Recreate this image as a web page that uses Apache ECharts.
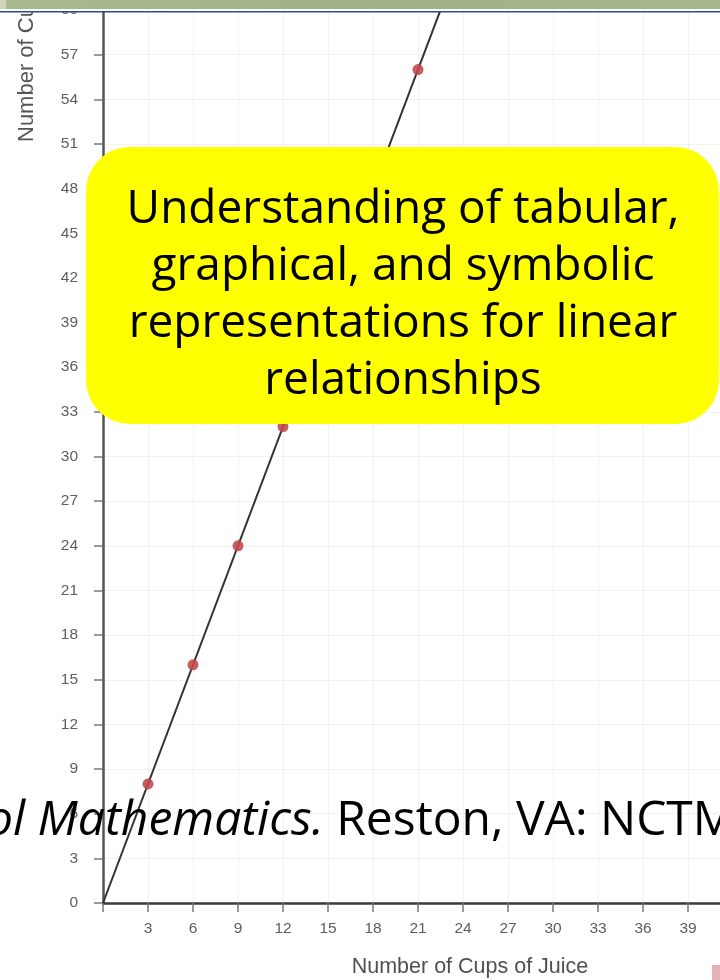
<!DOCTYPE html>
<html>
<head>
<meta charset="utf-8">
<title>Number of Cups of Juice</title>
<script src="https://cdn.jsdelivr.net/npm/echarts@6/dist/echarts.min.js"></script>
<style>
  html, body { margin: 0; padding: 0; background: #ffffff; }
  #chart { width: 720px; height: 980px; }
</style>
</head>
<body>
<div id="chart"></div>
<script>
// Plotted table: cups of juice vs. the quantity on the vertical axis
const cups = [3, 6, 9, 12, 21];
const counts = [8, 16, 24, 32, 56];

// Straight line through the origin that the table values lie on
const lineCups = [0, 24];
const lineCounts = [0, 64];

// Axis ranges and tick step
const xRange = [0, 42];
const yRange = [0, 60];
const tickStep = 3;

// Text
const yAxisTitle = 'Number of Cups';
const xAxisTitle = 'Number of Cups of Juice';
const calloutLines = [
  'Understanding of tabular,',
  'graphical, and symbolic',
  'representations for linear',
  'relationships'
];
const citationItalic = 'ol Mathematics.';
const citationPlain = ' Reston, VA: NCTM';

const chart = echarts.init(document.getElementById('chart'), null, { renderer: 'canvas' });

const labelStyle = {
  color: '#5e5e5e',
  fontFamily: 'Liberation Sans, Arial, sans-serif',
  fontSize: 15.5
};
const faintGrid = { show: true, lineStyle: { color: 'rgba(215,215,190,0.3)', width: 1 } };

chart.setOption({
  animation: false,
  backgroundColor: '#ffffff',
  // the plot runs past the right edge of the page, so its width is fixed
  grid: {
    left: 103, top: 10, width: 630, bottom: 77,
    containLabel: false,
    outerBoundsMode: 'none'
  },
  xAxis: {
    type: 'value',
    min: xRange[0],
    max: xRange[1],
    interval: tickStep,
    axisLine: { show: true, onZero: false, lineStyle: { color: '#3a3a3a', width: 2.5 } },
    axisTick: { show: true, inside: false, length: 9, lineStyle: { color: '#777', width: 1.5 } },
    axisLabel: {
      ...labelStyle,
      margin: 18,
      showMaxLabel: false,
      formatter: v => (v === 0 ? '' : String(v))
    },
    splitLine: faintGrid
  },
  yAxis: {
    type: 'value',
    min: yRange[0],
    max: yRange[1],
    interval: tickStep,
    axisLine: { show: true, onZero: false, lineStyle: { color: '#555', width: 2.5 } },
    axisTick: { show: true, inside: false, length: 9, lineStyle: { color: '#777', width: 1.5 } },
    axisLabel: { ...labelStyle, margin: 25 },
    splitLine: faintGrid
  },
  series: [
    {
      type: 'line',
      data: lineCups.map((c, i) => [c, lineCounts[i]]),
      symbol: 'none',
      clip: true,
      lineStyle: { color: '#333333', width: 2 },
      z: 2
    },
    {
      type: 'scatter',
      data: cups.map((c, i) => [c, counts[i]]),
      symbol: 'circle',
      symbolSize: 11,
      itemStyle: { color: '#c0474a', opacity: 0.88 },
      z: 3
    }
  ],
  graphic: [
    // vertical axis title (runs up under the header band)
    {
      type: 'text',
      x: 27, y: 142,
      rotation: Math.PI / 2,
      z: 50,
      style: {
        text: yAxisTitle,
        fill: '#555555',
        font: '22px "Liberation Sans", Arial, sans-serif',
        textAlign: 'left',
        textVerticalAlign: 'middle'
      }
    },
    // horizontal axis title
    {
      type: 'text',
      x: 470, y: 967,
      z: 50,
      style: {
        text: xAxisTitle,
        fill: '#505050',
        font: '21.5px "Liberation Sans", Arial, sans-serif',
        textAlign: 'center',
        textVerticalAlign: 'middle'
      }
    },
    // header band
    {
      type: 'rect',
      z: 60,
      shape: { x: 0, y: 0, width: 720, height: 9 },
      style: {
        fill: new echarts.graphic.LinearGradient(0, 0, 1, 0, [
          { offset: 0, color: '#a9b98e' },
          { offset: 0.5, color: '#a2b287' },
          { offset: 1, color: '#a6b68b' }
        ])
      }
    },
    {
      type: 'rect',
      z: 61,
      shape: { x: 0, y: 0, width: 6, height: 9 },
      style: { fill: '#cdd5bb' }
    },
    {
      type: 'rect',
      z: 60,
      shape: { x: 0, y: 9, width: 720, height: 2 },
      style: { fill: '#ffffff' }
    },
    {
      type: 'rect',
      z: 60,
      shape: { x: 0, y: 11, width: 720, height: 1.5 },
      style: { fill: '#2f4c7a' }
    },
    // yellow callout
    {
      type: 'rect',
      z: 70,
      shape: { x: 86, y: 147, width: 633, height: 277, r: 44 },
      style: { fill: '#ffff00' }
    },
    {
      type: 'text',
      x: 403, y: 295,
      z: 71,
      style: {
        text: calloutLines.join('\n'),
        fill: '#000000',
        font: '46px "Open Sans", "Noto Sans", sans-serif',
        lineHeight: 57,
        textAlign: 'center',
        textVerticalAlign: 'middle'
      }
    },
    // citation line
    {
      type: 'text',
      x: -14, y: 845,
      z: 72,
      style: {
        text: '{i|' + citationItalic + '}{n|' + citationPlain + '}',
        textVerticalAlign: 'bottom',
        textAlign: 'left',
        rich: {
          i: { fill: '#000000', font: 'italic 48px "Open Sans", "Noto Sans", sans-serif' },
          n: { fill: '#000000', font: '48px "Open Sans", "Noto Sans", sans-serif' }
        }
      }
    },
    // corner marker
    {
      type: 'rect',
      z: 72,
      shape: { x: 712, y: 965, width: 8, height: 15 },
      style: { fill: '#e4b2b6' }
    }
  ]
});
</script>
</body>
</html>
